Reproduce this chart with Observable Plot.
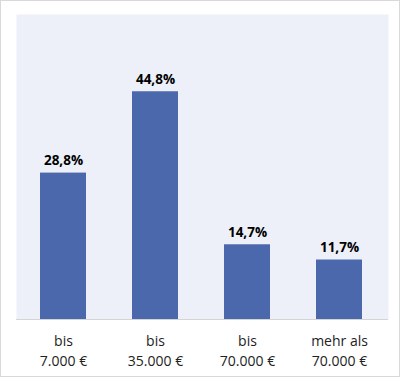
<!DOCTYPE html>
<html>
<head>
<meta charset="utf-8">
<script src="https://cdn.jsdelivr.net/npm/d3@7"></script>
<script src="https://cdn.jsdelivr.net/npm/@observablehq/plot@0.6"></script>
<style>
  html, body { margin: 0; padding: 0; background: #fff; }
  #wrap { width: 400px; height: 377px; box-sizing: border-box; border: 1px solid #d9d9d9; overflow: hidden; }
  svg { display: block; }
</style>
</head>
<body>
<div id="wrap"></div>
<script>
const categories = ["bis\n7.000 €", "bis\n35.000 €", "bis\n70.000 €", "mehr als\n70.000 €"];
const values = [28.8, 44.8, 14.7, 11.7];
const valueLabels = ["28,8%", "44,8%", "14,7%", "11,7%"];

const data = categories.map((c, i) => ({cat: c, value: values[i], label: valueLabels[i]}));

const chart = Plot.plot({
  width: 398,
  height: 375,
  marginLeft: 15,
  marginRight: 11,
  marginTop: 13,
  marginBottom: 57,
  style: {fontFamily: "'Open Sans', sans-serif", background: "transparent"},
  x: {domain: categories, paddingInner: 0.5, paddingOuter: 0.25, insetRight: 3, label: null},
  y: {domain: [0, 60], axis: null},
  marks: [
    Plot.frame({fill: "#edf0f9", stroke: null}),
    Plot.barY(data, {x: "cat", y: "value", fill: "#4a68ab"}),
    Plot.ruleY([0], {stroke: "#d4d4d4"}),
    Plot.text(data, {x: "cat", y: "value", text: "label", dy: -8, lineAnchor: "bottom", fontWeight: "bold", fontSize: 13.5, fill: "#000"}),
    Plot.axisX({tickSize: 0, tickPadding: 12, fontSize: 14, lineHeight: 1.45, color: "#222", label: null})
  ]
});
document.getElementById("wrap").appendChild(chart);
</script>
</body>
</html>
